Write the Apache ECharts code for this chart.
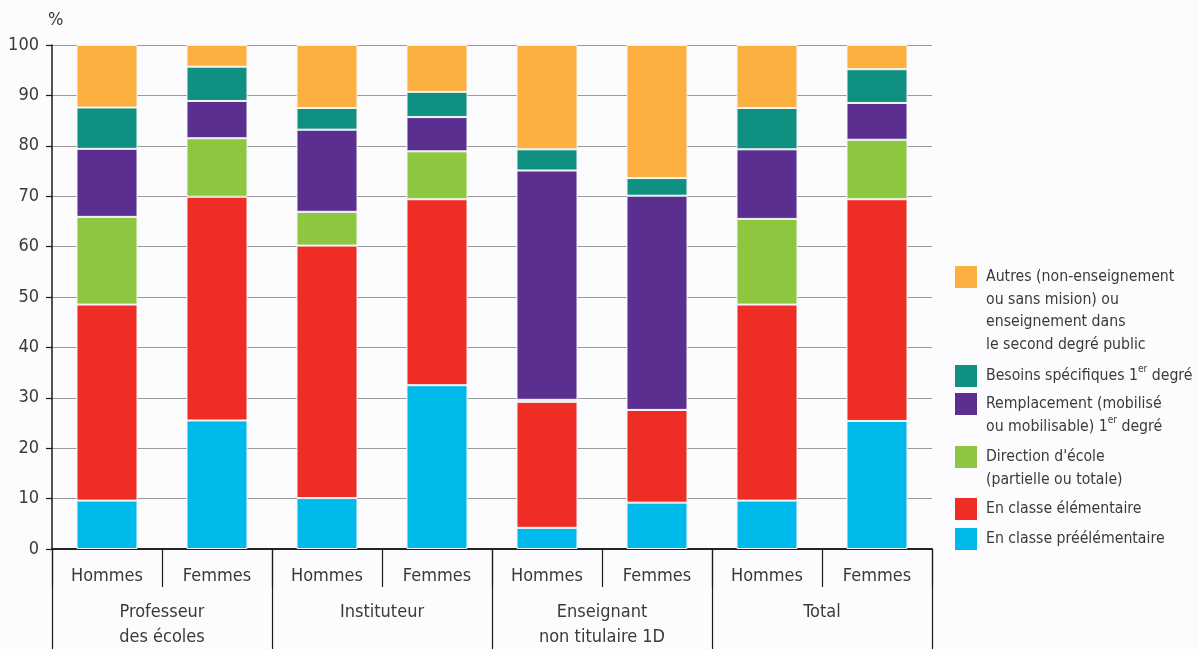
<!DOCTYPE html>
<html lang="fr">
<head>
<meta charset="utf-8">
<title>Répartition des enseignants du 1er degré public</title>
<script src="https://cdn.jsdelivr.net/npm/echarts@6/dist/echarts.min.js"></script>
<style>
  html, body { margin: 0; padding: 0; background: #fcfcfe; }
  #chart { width: 1198px; height: 649px; }
</style>
</head>
<body>
<div id="chart"></div>
<script>
// Sexe (one bar each) and statut (group of two bars)
const sexes = ['Hommes', 'Femmes', 'Hommes', 'Femmes', 'Hommes', 'Femmes', 'Hommes', 'Femmes'];
const statuts = ['Professeur\ndes écoles', 'Instituteur', 'Enseignant\nnon titulaire 1D', 'Total'];

// Percentages per activity, in bar order above (stacked bottom to top)
const preelementaire = [9.6, 25.5, 10.1, 32.5, 4.2, 9.2, 9.6, 25.4];
const elementaire    = [38.9, 44.4, 50.1, 36.9, 25.0, 18.4, 38.9, 44.0];
const direction      = [17.4, 11.6, 6.7, 9.5, 0.4, 0.0, 17.0, 11.8];
const remplacement   = [13.5, 7.4, 16.3, 6.8, 45.5, 42.5, 13.8, 7.3];
const besoins        = [8.2, 6.8, 4.3, 5.0, 4.2, 3.5, 8.2, 6.7];
const autres         = [12.4, 4.3, 12.5, 9.3, 20.7, 26.4, 12.5, 4.8];

const yTicks = { min: 0, max: 100, interval: 10 };

const FONT = "'Liberation Sans Narrow', 'DejaVu Sans Condensed', 'Roboto', sans-serif";
const TEXT = '#3a3a3a';

// Series definitions, bottom of the stack first
const seriesDefs = [
  { name: 'En classe préélémentaire', data: preelementaire, color: '#00b9eb',
    label: 'En classe préélémentaire', lines: 1 },
  { name: 'En classe élémentaire', data: elementaire, color: '#ee2e24',
    label: 'En classe élémentaire', lines: 1 },
  { name: "Direction d'école", data: direction, color: '#8dc63f',
    label: "Direction d'école\n(partielle ou totale)", lines: 2 },
  { name: 'Remplacement', data: remplacement, color: '#5b2f8f',
    label: 'Remplacement (mobilisé\nou mobilisable) 1{sup|er} degré', lines: 2 },
  { name: 'Besoins spécifiques', data: besoins, color: '#0f9080',
    label: 'Besoins spécifiques 1{sup|er} degré', lines: 1 },
  { name: 'Autres', data: autres, color: '#fbb040',
    label: 'Autres (non-enseignement\nou sans mision) ou\nenseignement dans\nle second degré public', lines: 4 }
];

// Legend entries: icon centre (y) for each entry, one legend block per entry
const legendCentres = { 'Autres': 277, 'Besoins spécifiques': 376, 'Remplacement': 404,
  "Direction d'école": 457, 'En classe élémentaire': 509, 'En classe préélémentaire': 539 };
const LH = 22.5;

const legends = seriesDefs.map(function (s) {
  const ht = s.lines * LH;
  const padTop = ht - LH;
  const boxH = ht + padTop;
  return {
    data: [s.name],
    left: 955,
    top: legendCentres[s.name] - boxH / 2,
    padding: 0,
    itemWidth: 22,
    itemHeight: 22,
    icon: 'rect',
    selectedMode: false,
    itemStyle: { borderWidth: 0 },
    formatter: function () { return s.label; },
    textStyle: {
      fontFamily: FONT,
      fontSize: 15.7,
      color: TEXT,
      lineHeight: LH,
      padding: [padTop, 0, 0, 4],
      rich: {
        sup: { fontFamily: FONT, fontSize: 10, color: TEXT, verticalAlign: 'top', lineHeight: 14 }
      }
    }
  };
});

const chart = echarts.init(document.getElementById('chart'), null, { renderer: 'canvas' });

chart.setOption({
  backgroundColor: '#fcfcfe',
  animation: false,
  grid: { left: 52, right: 266, top: 45, bottom: 100, containLabel: false, outerBoundsMode: 'none' },
  legend: legends,
  xAxis: [
    {
      type: 'category',
      data: sexes,
      position: 'bottom',
      axisLine: { show: true, lineStyle: { color: '#1a1a1a', width: 1.5 } },
      axisTick: { show: true, interval: 0, length: 38, lineStyle: { color: '#1a1a1a', width: 1.2 } },
      axisLabel: { interval: 0, margin: 17, fontFamily: FONT, fontSize: 18, color: TEXT, lineHeight: 20 }
    },
    {
      type: 'category',
      data: statuts,
      position: 'bottom',
      axisLine: { show: true, lineStyle: { color: '#1a1a1a', width: 1.5 } },
      axisTick: { show: true, interval: 0, length: 100, lineStyle: { color: '#1a1a1a', width: 1.2 } },
      axisLabel: { interval: 0, margin: 51, fontFamily: FONT, fontSize: 18, color: TEXT, lineHeight: 25 }
    }
  ],
  yAxis: {
    type: 'value',
    min: yTicks.min,
    max: yTicks.max,
    interval: yTicks.interval,
    name: '%',
    nameLocation: 'end',
    nameGap: 16,
    nameTextStyle: { fontFamily: FONT, fontSize: 18, color: TEXT, align: 'left', padding: [0, 0, 0, -4] },
    axisLine: { show: true, lineStyle: { color: '#1a1a1a', width: 1.5 } },
    axisTick: { show: true, length: 6, lineStyle: { color: '#1a1a1a', width: 1.2 } },
    axisLabel: { margin: 13, fontFamily: FONT, fontSize: 18, color: TEXT },
    splitLine: { show: true, lineStyle: { color: '#9a9a9a', width: 1 } }
  },
  series: seriesDefs.map(function (s) {
    return {
      name: s.name,
      type: 'bar',
      stack: 'total',
      xAxisIndex: 0,
      barWidth: 61,
      data: s.data,
      itemStyle: { color: s.color, borderColor: '#f4f4f6', borderWidth: 1 }
    };
  })
});
</script>
</body>
</html>
